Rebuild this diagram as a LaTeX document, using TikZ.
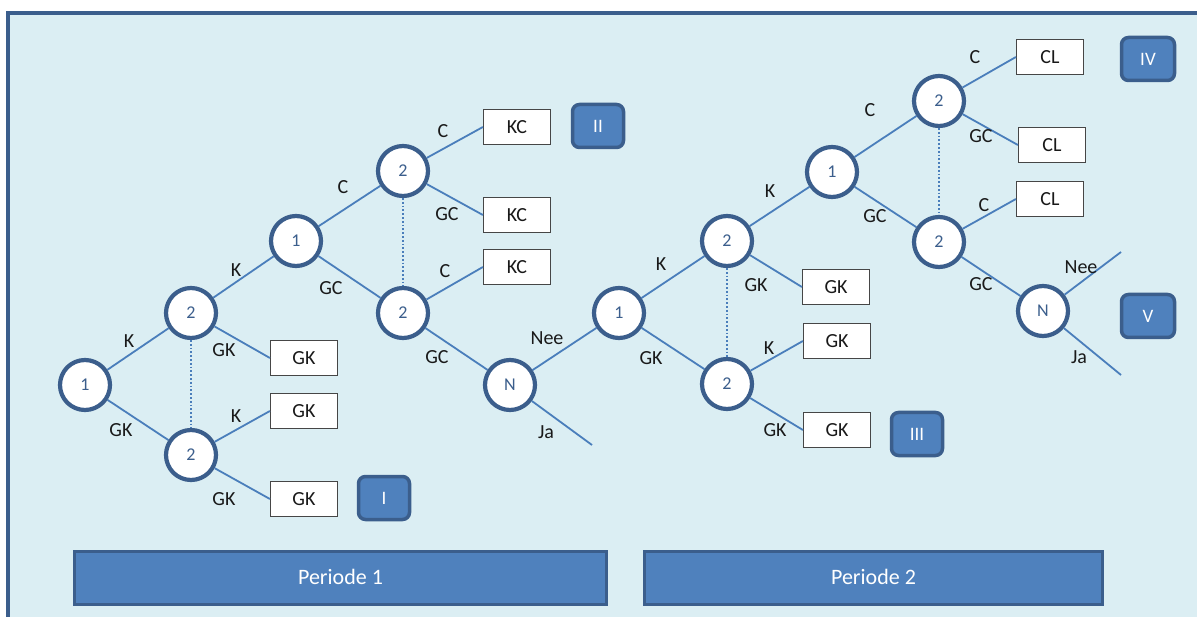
\documentclass[tikz,border=0pt]{standalone}
\usepackage{fontspec}
\setmainfont{Carlito}
\definecolor{bgc}{RGB}{219,238,243}
\definecolor{cdark}{RGB}{59,94,140}
\definecolor{cblue}{RGB}{79,129,189}
\definecolor{cline}{RGB}{74,126,187}
\definecolor{boxedge}{RGB}{70,70,70}
\definecolor{txt}{RGB}{25,25,25}
\tikzset{
  circ/.style={circle, draw=cdark, line width=4.2pt, fill=white, minimum size=50pt, inner sep=0pt, text=cdark, font=\fontsize{18}{20}\selectfont},
  outbox/.style={rectangle, draw=boxedge, line width=1.2pt, fill=white, minimum width=67pt, minimum height=35pt, inner sep=0pt, text=txt, font=\fontsize{20}{22}\selectfont},
  roman/.style={rectangle, rounded corners=7pt, fill=cblue, draw=cdark, line width=3.5pt, minimum width=51pt, minimum height=43pt, inner sep=0pt, text=white, font=\fontsize{19}{20}\selectfont},
  period/.style={rectangle, fill=cblue, draw=cdark, line width=3pt, minimum height=53pt, inner sep=0pt, text=white, font=\fontsize{22}{24}\selectfont},
  lbl/.style={inner sep=0pt, text=txt, font=\fontsize{20}{22}\selectfont},
  edge/.style={draw=cline, line width=1.8pt},
  dots/.style={draw=cline, line width=1.8pt, dotted},
}
\begin{document}
\begin{tikzpicture}[x=1pt,y=-1pt]
\useasboundingbox (0,0) rectangle (1197,617);
\begin{scope}
\clip (0,0) rectangle (1197,617);
\draw[fill=bgc, draw=cdark, line width=4pt] (8,13) rectangle (1230,650);
\end{scope}
% period bars
\node[period, minimum width=532pt] (p1) at (340.5,578) {\raisebox{2pt}{Periode 1}};
\node[period, minimum width=458pt] (p2) at (873.5,578) {\raisebox{2pt}{Periode 2}};
% roman boxes
\node[roman] (r1) at (384,498) {I};
\node[roman] (r2) at (598,126) {II};
\node[roman] (r3) at (917,434) {III};
\node[roman, minimum width=53pt] (r4) at (1148,59) {IV};
\node[roman, minimum width=53pt] (r5) at (1148,316) {V};
% period 1 circles
\node[circ] (a1) at (85,385) {1};
\node[circ] (b2u) at (191,313) {2};
\node[circ] (b2d) at (191,455) {2};
\node[circ] (c1) at (296,241) {1};
\node[circ] (d2u) at (403,171) {2};
\node[circ] (d2d) at (403,313) {2};
\node[circ] (n1) at (510,385) {N};
% period 2 circles
\node[circ] (e1) at (619,313) {1};
\node[circ] (f2u) at (727,241) {2};
\node[circ] (f2d) at (727,384) {2};
\node[circ] (g1) at (832,172) {1};
\node[circ] (h2u) at (939,101) {2};
\node[circ] (h2d) at (939,242) {2};
\node[circ] (n2) at (1043,311) {N};
% outcome boxes period 1
\node[outbox] (gk1) at (304,358) {GK};
\node[outbox] (gk2) at (304,411) {GK};
\node[outbox] (gk3) at (304,499) {GK};
\node[outbox] (kc1) at (517,127) {KC};
\node[outbox] (kc2) at (517,215) {KC};
\node[outbox] (kc3) at (517,267) {KC};
% outcome boxes period 2
\node[outbox] (gk4) at (836,287) {GK};
\node[outbox] (gk5) at (837,341) {GK};
\node[outbox] (gk6) at (837,430) {GK};
\node[outbox] (cl1) at (1050,57) {CL};
\node[outbox] (cl2) at (1052,145) {CL};
\node[outbox] (cl3) at (1050,199) {CL};
% free ends
\coordinate (ja1) at (592,445);
\coordinate (nee2) at (1121,252);
\coordinate (ja2) at (1121,375);
% edges period 1
\draw[edge] (a1) -- (b2u);
\draw[edge] (a1) -- (b2d);
\draw[edge] (b2u) -- (c1);
\draw[edge] (b2u) -- (gk1.west);
\draw[edge] (b2d) -- (gk2.west);
\draw[edge] (b2d) -- (gk3.west);
\draw[edge] (c1) -- (d2u);
\draw[edge] (c1) -- (d2d);
\draw[edge] (d2u) -- (kc1.west);
\draw[edge] (d2u) -- (kc2.west);
\draw[edge] (d2d) -- (kc3.west);
\draw[edge] (d2d) -- (n1);
\draw[edge] (n1) -- (e1);
\draw[edge] (n1) -- (ja1);
% edges period 2
\draw[edge] (e1) -- (f2u);
\draw[edge] (e1) -- (f2d);
\draw[edge] (f2u) -- (g1);
\draw[edge] (f2u) -- (gk4.west);
\draw[edge] (f2d) -- (gk5.west);
\draw[edge] (f2d) -- (gk6.west);
\draw[edge] (g1) -- (h2u);
\draw[edge] (g1) -- (h2d);
\draw[edge] (h2u) -- (cl1.west);
\draw[edge] (h2u) -- (cl2.west);
\draw[edge] (h2d) -- (cl3.west);
\draw[edge] (h2d) -- (n2);
\draw[edge] (n2) -- (nee2);
\draw[edge] (n2) -- (ja2);
% information sets
\draw[dots] (b2u) -- (b2d);
\draw[dots] (d2u) -- (d2d);
\draw[dots] (f2u) -- (f2d);
\draw[dots] (h2u) -- (h2d);
% labels period 1
\node[lbl] (l1) at (129,341) {K};
\node[lbl] (l2) at (121,430) {GK};
\node[lbl] (l3) at (236,270) {K};
\node[lbl] (l4) at (224,350) {GK};
\node[lbl] (l5) at (236,416) {K};
\node[lbl] (l6) at (224,499) {GK};
\node[lbl] (l7) at (343,187) {C};
\node[lbl] (l8) at (331,288) {GC};
\node[lbl] (l9) at (443,131) {C};
\node[lbl] (l10) at (447,214) {GC};
\node[lbl] (l11) at (445,271) {C};
\node[lbl] (l12) at (437,357) {GC};
\node[lbl] (l13) at (547,338) {Nee};
\node[lbl] (l14) at (546,432) {Ja};
% labels period 2
\node[lbl] (m1) at (661,264) {K};
\node[lbl] (m2) at (651,358) {GK};
\node[lbl] (m3) at (770,191) {K};
\node[lbl] (m4) at (756,285) {GK};
\node[lbl] (m5) at (769,348) {K};
\node[lbl] (m6) at (775,430) {GK};
\node[lbl] (m7) at (870,110) {C};
\node[lbl] (m8) at (875,216) {GC};
\node[lbl] (m9) at (975,57) {C};
\node[lbl] (m10) at (981,136) {GC};
\node[lbl] (m11) at (984,205) {C};
\node[lbl] (m12) at (981,284) {GC};
\node[lbl] (m13) at (1081,267) {Nee};
\node[lbl] (m14) at (1079,357) {Ja};
\end{tikzpicture}
\end{document}
